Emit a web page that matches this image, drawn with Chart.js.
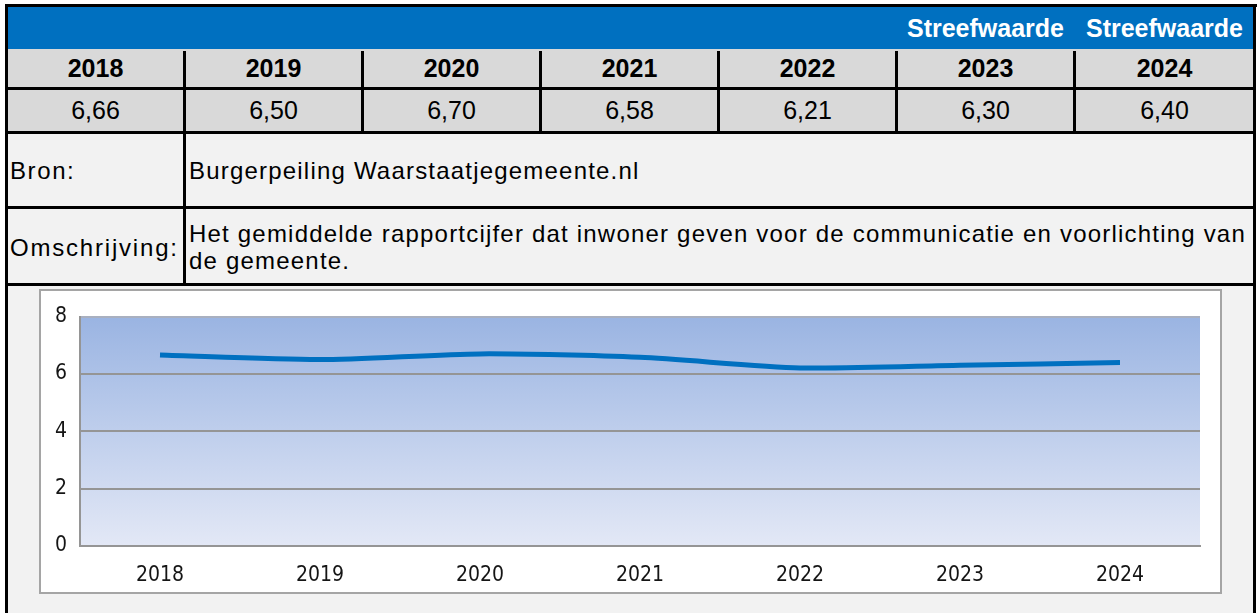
<!DOCTYPE html>
<html lang="nl">
<head>
<meta charset="UTF-8">
<title>Communicatie en voorlichting</title>
<script src="https://cdn.jsdelivr.net/npm/chart.js"></script>
<style>
    body { margin: 0; background: #ffffff; font-family: "Liberation Sans", Arial, sans-serif; }
    #page { position: relative; width: 1258px; height: 613px; overflow: hidden; }
    .abs { position: absolute; box-sizing: border-box; }
    .blk { position: absolute; background: #000; }
    .cell { position: absolute; display: flex; align-items: center; justify-content: center; }
    .head { font-weight: bold; font-size: 25px; color: #000; }
    .val { font-size: 25px; color: #000; }
    .tgt { font-weight: bold; font-size: 25px; color: #fff; }
    .txt { position: absolute; font-size: 24px; color: #000; letter-spacing: 1.2px; }
</style>
</head>
<body>
<div id="page">
    <!-- achtergronden -->
    <div class="abs" style="left:8px;top:7px;width:1245px;height:42px;background:#0070c0"></div>
    <div class="abs" style="left:8px;top:49px;width:1245px;height:82px;background:#d9d9d9"></div>
    <div class="abs" style="left:8px;top:131px;width:1245px;height:482px;background:#f2f2f2"></div>

    <!-- zwarte lijnen -->
    <div class="blk" style="left:5px;top:4px;width:1252px;height:3px"></div>
    <div class="blk" style="left:5px;top:4px;width:3px;height:609px"></div>
    <div class="blk" style="left:1253px;top:4px;width:3px;height:609px"></div>
    <div class="blk" style="left:8px;top:87px;width:1245px;height:3px"></div>
    <div class="blk" style="left:8px;top:131px;width:1245px;height:3px"></div>
    <div class="blk" style="left:8px;top:206px;width:1245px;height:3px"></div>
    <div class="blk" style="left:8px;top:283px;width:1245px;height:3px"></div>
    <div id="dividers"></div>
    <div class="blk" style="left:183px;top:131px;width:3px;height:155px"></div>

    <div id="cells"></div>

    <div class="txt" style="left:10px;top:157px;letter-spacing:1.6px">Bron:</div>
    <div class="txt" style="left:189px;top:157px">Burgerpeiling Waarstaatjegemeente.nl</div>
    <div class="txt" style="left:10px;top:234px;letter-spacing:1.8px">Omschrijving:</div>
    <div class="txt" style="left:189px;top:220px;width:1062px;line-height:27px">Het gemiddelde rapportcijfer dat inwoner geven voor de communicatie en voorlichting van de gemeente.</div>

    <div class="abs" style="left:39px;top:289px;width:1183px;height:305px;background:#fff;border:2px solid #a5a5a5"></div>
    <canvas id="chart" width="1179" height="301" style="position:absolute;left:41px;top:291px"></canvas>
</div>
<script>
    // gegevens
    const jaren = ['2018', '2019', '2020', '2021', '2022', '2023', '2024'];
    const cijfers = [6.66, 6.50, 6.70, 6.58, 6.21, 6.30, 6.40];
    const cijferTekst = ['6,66', '6,50', '6,70', '6,58', '6,21', '6,30', '6,40'];
    const streefKoppen = ['', '', '', '', '', 'Streefwaarde', 'Streefwaarde'];
    const yTicks = [0, 2, 4, 6, 8];

    // tabel opbouwen
    const kolomX = [8, 186, 364, 542, 720, 898, 1076, 1253];
    const cells = document.getElementById('cells');
    const dividers = document.getElementById('dividers');
    jaren.forEach((jaar, i) => {
        const x = kolomX[i], w = kolomX[i + 1] - kolomX[i] - (i < 6 ? 3 : 0);
        cells.innerHTML += `<div class="cell tgt" style="left:${x}px;top:7px;width:${w}px;height:42px">${streefKoppen[i]}</div>`;
        cells.innerHTML += `<div class="cell head" style="left:${x}px;top:49px;width:${w}px;height:38px">${jaar}</div>`;
        cells.innerHTML += `<div class="cell val" style="left:${x}px;top:90px;width:${w}px;height:41px">${cijferTekst[i]}</div>`;
        if (i > 0) {
            dividers.innerHTML += `<div class="blk" style="left:${x - 3}px;top:51px;width:3px;height:80px"></div>`;
        }
    });

    // verloop in het plotvlak
    const achtergrond = {
        id: 'achtergrond',
        beforeDraw(chart) {
            const { ctx, chartArea: a } = chart;
            const g = ctx.createLinearGradient(0, a.top, 0, a.bottom);
            g.addColorStop(0, '#9ab4e2');
            g.addColorStop(1, '#e3e8f6');
            ctx.save();
            ctx.fillStyle = g;
            ctx.fillRect(a.left, a.top, a.right - a.left, a.bottom - a.top);
            ctx.restore();
        }
    };

    const tickFont = { family: 'DejaVu Sans Condensed', size: 21 };

    new Chart(document.getElementById('chart'), {
        type: 'line',
        data: {
            labels: jaren,
            datasets: [{
                data: cijfers,
                borderColor: '#0070c0',
                borderWidth: 5,
                tension: 0.25,
                pointRadius: 0,
                fill: false
            }]
        },
        options: {
            responsive: false,
            animation: false,
            layout: { padding: { top: 24, right: 20, left: 0, bottom: 0 } },
            plugins: { legend: { display: false }, tooltip: { enabled: false } },
            scales: {
                x: {
                    offset: true,
                    grid: { display: false },
                    border: { display: true, color: '#959595', width: 2 },
                    ticks: { color: '#151515', padding: 9, font: tickFont },
                    afterFit: s => { s.height = 46; }
                },
                y: {
                    min: 0,
                    max: 8,
                    afterBuildTicks: s => { s.ticks = yTicks.map(v => ({ value: v })); },
                    grid: {
                        color: ctx => ctx.tick && ctx.tick.value === 8 ? '#a9b0c0' : '#959595',
                        lineWidth: 2,
                        drawTicks: false
                    },
                    border: { display: true, color: '#959595', width: 2 },
                    ticks: { color: '#151515', padding: 13, font: tickFont },
                    afterFit: s => { s.width = 39; }
                }
            }
        },
        plugins: [achtergrond]
    });
</script>
</body>
</html>
